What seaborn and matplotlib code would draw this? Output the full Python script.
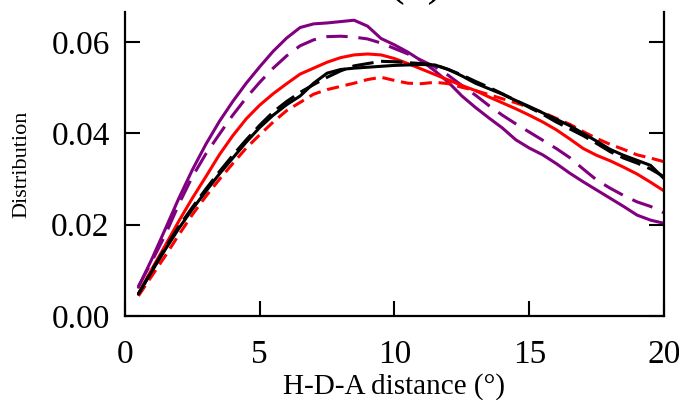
import numpy as np
import pandas as pd
import matplotlib
matplotlib.use("Agg")
import matplotlib.pyplot as plt
import seaborn as sns

x = [0.5, 1.0, 1.5, 2.0, 2.5, 3.0, 3.5, 4.0, 4.5, 5.0,
     5.5, 6.0, 6.5, 7.0, 7.5, 8.0, 8.5, 9.0, 9.5, 10.0,
     10.5, 11.0, 11.5, 12.0, 12.5, 13.0, 13.5, 14.0, 14.5, 15.0,
     15.5, 16.0, 16.5, 17.0, 17.5, 18.0, 18.5, 19.0, 19.5, 20.0]

purple_solid = [0.0063, 0.0125, 0.0191, 0.0258, 0.0320, 0.0376, 0.0426, 0.0470, 0.0510, 0.0546,
                0.0580, 0.0609, 0.0632, 0.0640, 0.0642, 0.0645, 0.0648, 0.0635, 0.0608, 0.0594,
                0.0578, 0.0559, 0.0537, 0.0512, 0.0482, 0.0457, 0.0434, 0.0412, 0.0386, 0.0368,
                0.0353, 0.0334, 0.0313, 0.0294, 0.0276, 0.0258, 0.0240, 0.0221, 0.0210, 0.0203]
purple_dashed = [0.0065, 0.0120, 0.0178, 0.0245, 0.0305, 0.0355, 0.0398, 0.0440, 0.0478, 0.0512,
                 0.0543, 0.0570, 0.0592, 0.0605, 0.0612, 0.0613, 0.0611, 0.0607, 0.0598, 0.0586,
                 0.0574, 0.0560, 0.0546, 0.0527, 0.0505, 0.0484, 0.0461, 0.0440, 0.0421, 0.0403,
                 0.0385, 0.0367, 0.0347, 0.0322, 0.0298, 0.0280, 0.0264, 0.0250, 0.0240, 0.0226]
red_solid = [0.0049, 0.0103, 0.0155, 0.0208, 0.0258, 0.0305, 0.0353, 0.0395, 0.0432, 0.0462,
             0.0487, 0.0509, 0.0530, 0.0543, 0.0556, 0.0566, 0.0572, 0.0574, 0.0572, 0.0564,
             0.0553, 0.0541, 0.0529, 0.0517, 0.0505, 0.0494, 0.0480, 0.0467, 0.0454, 0.0440,
             0.0425, 0.0408, 0.0388, 0.0367, 0.0352, 0.0340, 0.0326, 0.0311, 0.0293, 0.0274]
red_dashed = [0.0044, 0.0088, 0.0132, 0.0178, 0.0222, 0.0262, 0.0299, 0.0334, 0.0368, 0.0397,
              0.0425, 0.0450, 0.0468, 0.0486, 0.0496, 0.0503, 0.0510, 0.0518, 0.0523, 0.0516,
              0.0510, 0.0509, 0.0512, 0.0509, 0.0501, 0.0494, 0.0485, 0.0476, 0.0467, 0.0457,
              0.0446, 0.0433, 0.0420, 0.0404, 0.0389, 0.0376, 0.0365, 0.0353, 0.0346, 0.0338]
black_solid = [0.0048, 0.0098, 0.0146, 0.0192, 0.0234, 0.0273, 0.0311, 0.0346, 0.0381, 0.0413,
               0.0440, 0.0463, 0.0482, 0.0510, 0.0532, 0.0540, 0.0543, 0.0545, 0.0547, 0.0549,
               0.0550, 0.0551, 0.0550, 0.0540, 0.0526, 0.0510, 0.0498, 0.0486, 0.0472, 0.0459,
               0.0445, 0.0431, 0.0417, 0.0400, 0.0383, 0.0365, 0.0352, 0.0341, 0.0330, 0.0301]
black_dashed = [0.0048, 0.0100, 0.0150, 0.0196, 0.0238, 0.0278, 0.0316, 0.0352, 0.0386, 0.0418,
                0.0447, 0.0470, 0.0490, 0.0507, 0.0523, 0.0537, 0.0548, 0.0553, 0.0558, 0.0557,
                0.0555, 0.0553, 0.0550, 0.0540, 0.0528, 0.0514, 0.0501, 0.0487, 0.0472, 0.0457,
                0.0442, 0.0425, 0.0410, 0.0395, 0.0378, 0.0360, 0.0346, 0.0335, 0.0322, 0.0305]

x_ticks = [0, 5, 10, 15, 20]
y_ticks = [0.00, 0.02, 0.04, 0.06]
y_tick_labels = ["0.00", "0.02", "0.04", "0.06"]

sns.set_style("ticks")
plt.rcParams["font.family"] = ["Liberation Serif", "DejaVu Serif"]
for k in ["text.color", "axes.labelcolor", "xtick.color", "ytick.color", "axes.edgecolor"]:
    plt.rcParams[k] = "black"

fig = plt.figure(figsize=(6.79, 4.0), dpi=100)
ax = fig.add_axes([0.184, 0.21, 0.978 - 0.184, 0.97 - 0.21])

series = [
    (purple_solid, "#800080", None),
    (purple_dashed, "#800080", (7, 3.5)),
    (red_solid, "#ff0000", None),
    (red_dashed, "#ff0000", (4, 2.2)),
    (black_solid, "#000000", None),
    (black_dashed, "#000000", (7, 2.5)),
]

for vals, color, dash in series:
    df = pd.DataFrame({"x": x, "y": vals})
    sns.lineplot(data=df, x="x", y="y", ax=ax, color=color, linewidth=2.2)
    if dash is not None:
        ax.lines[-1].set_dashes(dash)

ax.set_xlim(0, 20)
ax.set_ylim(0, 0.0666)
ax.set_xticks(x_ticks)
ax.set_xticklabels([str(t) for t in x_ticks])
ax.set_yticks(y_ticks)
ax.set_yticklabels(y_tick_labels)
ax.tick_params(axis="both", direction="in", length=11, width=1.5, labelsize=24,
               right=True, top=False, colors="black")
ax.tick_params(axis="y", pad=11)
ax.tick_params(axis="x", pad=17)
for side in ["left", "right", "bottom"]:
    ax.spines[side].set_visible(True)
    ax.spines[side].set_linewidth(1.6)
    ax.spines[side].set_color("black")
ax.spines["top"].set_visible(False)

ax.set_xlabel("H-D-A distance (°)", fontsize=21, labelpad=2)
ax.set_ylabel("Distribution", fontsize=16, labelpad=14)

fig.text(416 / 679, 1 + 6 / 400, "(b)", ha="center", va="baseline", fontsize=34)

fig.savefig("out.png", dpi=100)
